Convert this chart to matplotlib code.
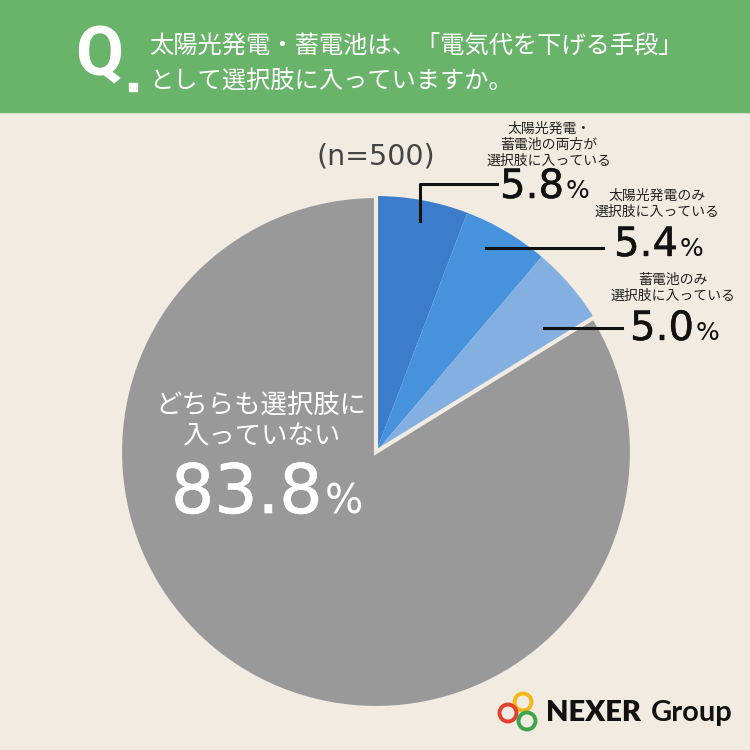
import matplotlib.pyplot as plt
import matplotlib.patheffects as pe
from matplotlib.patches import Rectangle, Circle

plt.rcParams['font.family'] = ['Noto Sans CJK JP', 'DejaVu Sans']

# data
labels = ["太陽光発電・\n蓄電池の両方が\n選択肢に入っている",
          "太陽光発電のみ\n選択肢に入っている",
          "蓄電池のみ\n選択肢に入っている",
          "どちらも選択肢に\n入っていない"]
values = [5.8, 5.4, 5.0, 83.8]
colors = ["#3b7dca", "#4692dc", "#84b0e1", "#999999"]
title_lines = ["太陽光発電・蓄電池は、「電気代を下げる手段」",
               "として選択肢に入っていますか。"]
n_text = "(n=500)"

bg = "#f2ebe1"
W = H = 750
num_font = ["DejaVu Sans"]

fig = plt.figure(figsize=(7.5, 7.5), dpi=100, facecolor=bg)

# pie first, overlay on top
cx, cy, r = 376, 452, 256
pax = fig.add_axes([(cx - r) / W, (H - cy - r) / H, 2 * r / W, 2 * r / H])
wedges, _ = pax.pie(values, colors=colors, startangle=90, counterclock=False,
                    wedgeprops=dict(linewidth=0))
wedges[3].set_edgecolor(bg)
wedges[3].set_linewidth(3)
pax.set_xlim(-1, 1)
pax.set_ylim(-1, 1)
pax.set_aspect("equal")
pax.axis("off")

# overlay in pixel coords
ov = fig.add_axes([0, 0, 1, 1])
ov.patch.set_alpha(0)
ov.set_xlim(0, W)
ov.set_ylim(H, 0)
ov.axis("off")

# header band
ov.add_patch(Rectangle((0, 0), W, 112, color="#69b36b", zorder=1))
ov.text(99, 57, "Q", color="white", fontsize=50, fontweight="bold",
        ha="center", va="center", family=["Roboto", "DejaVu Sans"])
ov.add_patch(Rectangle((129, 83), 8, 8, color="white", zorder=2))
ov.text(149, 47, title_lines[0], color="white", fontsize=17.5, va="center")
ov.text(149, 82, title_lines[1], color="white", fontsize=17.5, va="center")

ov.text(376, 165, n_text, color="#444444", fontsize=20.5, ha="center",
        va="baseline", family=num_font)

# leader lines and labels
lc = "#111111"
ov.plot([420, 420, 497], [221, 184, 184], color=lc, lw=2.2, zorder=5)
ov.plot([486, 603], [248, 248], color=lc, lw=2.2, zorder=5)
ov.plot([544, 622], [328, 328], color=lc, lw=2.2, zorder=5)

small = dict(fontsize=10, color="#222222", ha="center", va="center",
             linespacing=1.2)
ov.text(549, 145, labels[0], **small)
ov.text(657, 204, labels[1], **small)
ov.text(673, 288, labels[2], **small)


def pct_label(x, y, v, size, psize, color, thick):
    # number (slightly thickened), then a smaller % sign right after it
    fx = [pe.withStroke(linewidth=thick, foreground=color)]
    t = ov.text(x, y, f"{v:.1f}", fontsize=size, color=color, ha="left",
                va="baseline", family=num_font, path_effects=fx)
    fig.canvas.draw()
    bb = t.get_window_extent()
    xe = bb.x1 / fig.dpi * 100
    ov.text(xe + 2, y, "%", fontsize=psize, color=color,
            ha="left", va="baseline", family=num_font)


pct_label(500, 198, values[0], 29, 18, "#111111", 0.3)
pct_label(614, 256, values[1], 29, 18, "#111111", 0.3)
pct_label(630, 340, values[2], 29, 18, "#111111", 0.3)

ov.text(261, 421, labels[3], color="white", fontsize=19, ha="center",
        va="center", linespacing=1.2)
pct_label(171, 513, values[3], 49, 29, "white", 0.5)

# logo
ring = dict(fill=False, lw=2.8, zorder=6)
ov.add_patch(Circle((523, 702), 8.5, ec="#f2b81a", **ring))
ov.add_patch(Circle((508, 713), 8.5, ec="#e2412e", **ring))
ov.add_patch(Circle((527, 721), 8.5, ec="#3ea54a", **ring))
ov.text(546, 713, "NEXER", fontsize=21, fontweight="heavy", color="#111111",
        ha="left", va="center", family=["Lato", "DejaVu Sans"])
ov.text(651, 713, "Group", fontsize=21, fontweight="bold", color="#111111",
        ha="left", va="center", family=["Lato", "DejaVu Sans"])

fig.savefig("out.png", dpi=100, facecolor=bg)
